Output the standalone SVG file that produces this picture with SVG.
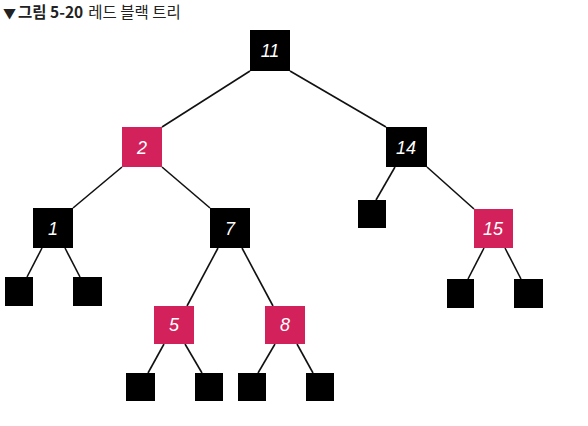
<svg xmlns="http://www.w3.org/2000/svg" width="588" height="426" viewBox="0 0 588 426">
<style>
.b{fill:#000}
.r{fill:#d3215b}
.t{fill:#fff;font-family:"Liberation Sans",sans-serif;font-style:italic;font-size:18px;text-anchor:middle}
.e line{stroke:#111;stroke-width:1.6}
.ti{font-family:"Noto Sans CJK KR","Noto Sans",sans-serif;font-size:15.5px;fill:#222}
</style>
<rect width="588" height="426" fill="#fff"/>
<text class="ti" x="3" y="18"><tspan font-weight="bold" font-size="13">▼</tspan><tspan font-weight="bold" dx="2">그림 5-20</tspan><tspan dx="5">레드 블랙 트리</tspan></text>
<g class="e" id="edges">
<line x1="250" y1="71" x2="162" y2="127"/>
<line x1="290" y1="71" x2="386" y2="127"/>
<line x1="122" y1="167" x2="73" y2="208"/>
<line x1="162" y1="167" x2="210" y2="208"/>
<line x1="395" y1="167" x2="376" y2="200"/>
<line x1="427" y1="167" x2="474" y2="209"/>
<line x1="42" y1="248" x2="27" y2="277"/>
<line x1="65" y1="248" x2="80" y2="277"/>
<line x1="218" y1="248" x2="187" y2="306"/>
<line x1="242" y1="248" x2="273" y2="306"/>
<line x1="164" y1="344" x2="148" y2="373"/>
<line x1="185" y1="344" x2="202" y2="373"/>
<line x1="275" y1="344" x2="258" y2="373"/>
<line x1="297" y1="344" x2="313" y2="373"/>
<line x1="484" y1="248" x2="468" y2="279"/>
<line x1="505" y1="248" x2="521" y2="279"/>
</g>
<g id="n11"><rect class="b" x="250" y="30" width="40" height="41"/><text class="t" x="270" y="57">11</text></g>
<g id="n2"><rect class="r" x="122" y="127" width="40" height="40"/><text class="t" x="142" y="154">2</text></g>
<g id="n14"><rect class="b" x="386" y="127" width="41" height="40"/><text class="t" x="406" y="154">14</text></g>
<g id="n1"><rect class="b" x="33" y="208" width="40" height="40"/><text class="t" x="53" y="235">1</text></g>
<g id="n7"><rect class="b" x="210" y="208" width="40" height="40"/><text class="t" x="230" y="235">7</text></g>
<g id="n15"><rect class="r" x="474" y="209" width="39" height="39"/><text class="t" x="493" y="235">15</text></g>
<g id="n5"><rect class="r" x="154" y="306" width="40" height="38"/><text class="t" x="174" y="331">5</text></g>
<g id="n8"><rect class="r" x="265" y="306" width="40" height="38"/><text class="t" x="285" y="331">8</text></g>
<g id="leaves">
<rect class="b" x="358" y="200" width="28" height="28"/>
<rect class="b" x="5" y="277" width="28" height="29"/>
<rect class="b" x="73" y="277" width="29" height="29"/>
<rect class="b" x="447" y="279" width="27" height="29"/>
<rect class="b" x="514" y="279" width="29" height="29"/>
<rect class="b" x="126" y="373" width="29" height="28"/>
<rect class="b" x="195" y="373" width="28" height="28"/>
<rect class="b" x="238" y="373" width="28" height="28"/>
<rect class="b" x="306" y="373" width="28" height="28"/>
</g>
</svg>
